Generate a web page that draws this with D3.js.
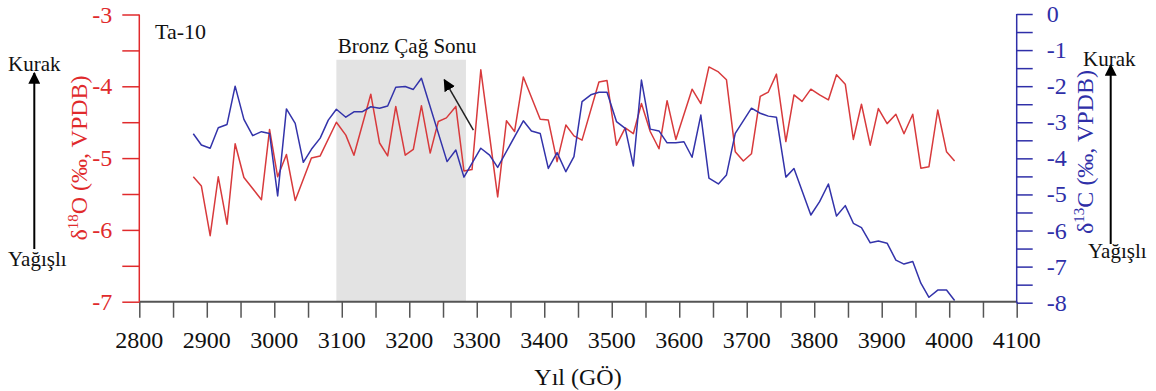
<!DOCTYPE html>
<html>
<head>
<meta charset="utf-8">
<script src="https://cdn.jsdelivr.net/npm/d3@7/dist/d3.min.js"></script>
<style>
  html, body { margin: 0; padding: 0; background: #fff; }
  svg { display: block; }
  text { font-family: "Liberation Serif", "Times New Roman", serif; }
</style>
</head>
<body>
<svg id="chart" width="1156" height="391"></svg>
<script>
// Ta-10 speleothem record: δ18O and δ13C against age (years BP)
const o18Years = [2880,2892,2905,2917,2930,2942,2955,2981,2993,3005,3018,3031,3055,3068,3092,3106,3118,3143,3156,3168,3180,3194,3206,3218,3231,3243,3255,3269,3281,3293,3306,3331,3344,3356,3369,3394,3406,3419,3432,3444,3456,3481,3493,3507,3520,3532,3544,3557,3570,3582,3595,3619,3632,3644,3658,3670,3683,3695,3707,3720,3732,3744,3758,3770,3782,3795,3808,3821,3833,3846,3858,3870,3883,3895,3908,3921,3933,3946,3958,3970,3983,3996,4008];
const o18Values = [-5.26,-5.39,-6.08,-5.26,-5.92,-4.80,-5.27,-5.58,-4.60,-5.26,-4.95,-5.59,-5.00,-4.97,-4.50,-4.68,-4.96,-4.11,-4.79,-4.97,-4.28,-4.96,-4.88,-4.27,-4.93,-4.49,-4.44,-4.28,-5.18,-5.16,-3.77,-5.54,-4.48,-4.63,-3.87,-4.46,-4.47,-5.05,-4.54,-4.69,-4.75,-3.94,-3.92,-4.82,-4.58,-4.66,-4.24,-4.63,-4.87,-4.20,-4.74,-4.04,-4.24,-3.73,-3.80,-3.91,-4.91,-5.04,-4.94,-4.14,-4.08,-3.83,-4.77,-4.12,-4.21,-4.04,-4.12,-4.19,-3.84,-3.97,-4.74,-4.25,-4.82,-4.31,-4.52,-4.39,-4.66,-4.39,-5.14,-5.12,-4.33,-4.91,-5.04];

const c13Years = [2880,2892,2905,2917,2930,2942,2955,2968,2981,2993,3005,3018,3031,3043,3055,3068,3080,3092,3106,3118,3130,3143,3156,3168,3180,3194,3206,3218,3256,3269,3281,3306,3319,3331,3369,3381,3394,3406,3419,3432,3444,3456,3469,3481,3493,3507,3520,3532,3544,3557,3570,3582,3595,3607,3619,3632,3644,3658,3670,3683,3707,3720,3732,3744,3758,3770,3795,3808,3821,3833,3846,3858,3870,3883,3895,3908,3921,3933,3946,3958,3970,3983,3996,4008];
const c13Values = [-3.32,-3.63,-3.72,-3.15,-3.06,-2.00,-2.92,-3.37,-3.26,-3.31,-5.04,-2.63,-3.03,-4.11,-3.75,-3.44,-2.94,-2.64,-2.86,-2.71,-2.71,-2.57,-2.61,-2.55,-2.03,-2.01,-2.09,-1.78,-4.09,-3.77,-4.52,-3.72,-3.91,-4.25,-2.96,-3.24,-3.31,-4.28,-3.84,-4.37,-3.95,-2.43,-2.24,-2.17,-2.17,-2.98,-3.17,-4.21,-1.83,-3.19,-3.24,-3.57,-3.57,-3.54,-3.97,-2.80,-4.55,-4.71,-4.46,-3.31,-2.61,-2.75,-2.83,-2.86,-4.52,-4.28,-5.57,-5.20,-4.71,-5.60,-5.31,-5.80,-5.92,-6.34,-6.29,-6.35,-6.82,-6.93,-6.86,-7.46,-7.85,-7.65,-7.65,-7.94];

// axis ticks
const xTickValues = [2800,2850,2900,2950,3000,3050,3100,3150,3200,3250,3300,3350,3400,3450,3500,3550,3600,3650,3700,3750,3800,3850,3900,3950,4000,4050,4100];
const xTickLabels = [2800,2900,3000,3100,3200,3300,3400,3500,3600,3700,3800,3900,4000,4100];
const o18TickValues = [-7,-6.5,-6,-5.5,-5,-4.5,-4,-3.5,-3];
const o18TickLabels = [-7,-6,-5,-4,-3];
const c13TickValues = [-8,-7.5,-7,-6.5,-6,-5.5,-5,-4.5,-4,-3.5,-3,-2.5,-2,-1.5,-1,-0.5,0];
const c13TickLabels = [-8,-7,-6,-5,-4,-3,-2,-1,0];

// Late Bronze Age interval and its pointer
const bronzeAge = { start: 3092, end: 3284, top: -3.63 };
const bronzeArrow = { fromYear: 3295, fromValue: -4.61, toYear: 3252, toValue: -3.91 };

const RED = "#e02a2c", RED_LINE = "#d83a3c", BLUE = "#2f2fa8", BLUE_LINE = "#3333aa", GREY = "#555";

const svg = d3.select("#chart");
const x = d3.scaleLinear().domain([2800, 4100]).range([139.3, 1016.7]);
const yL = d3.scaleLinear().domain([-7, -3]).range([301.7, 14.5]);
const yR = d3.scaleLinear().domain([-8, 0]).range([302.7, 14]);

const defs = svg.append("defs");
defs.append("marker").attr("id", "head").attr("viewBox", "0 0 10 10")
  .attr("refX", 9).attr("refY", 5).attr("markerWidth", 12).attr("markerHeight", 12)
  .attr("markerUnits", "userSpaceOnUse").attr("orient", "auto")
  .append("path").attr("d", "M0,0 L10,5 L0,10 Z").attr("fill", "#000");

// shaded interval
svg.append("rect")
  .attr("x", x(bronzeAge.start)).attr("width", x(bronzeAge.end) - x(bronzeAge.start))
  .attr("y", yL(bronzeAge.top)).attr("height", yL(-7) - yL(bronzeAge.top))
  .attr("fill", "#e3e3e3");

// series
const o18 = o18Years.map((yr, i) => [yr, o18Values[i]]);
const c13 = c13Years.map((yr, i) => [yr, c13Values[i]]);
svg.append("path").datum(o18)
  .attr("d", d3.line().x(d => x(d[0])).y(d => yL(d[1])))
  .attr("fill", "none").attr("stroke", RED_LINE).attr("stroke-width", 1.5).attr("stroke-linejoin", "round");
svg.append("path").datum(c13)
  .attr("d", d3.line().x(d => x(d[0])).y(d => yR(d[1])))
  .attr("fill", "none").attr("stroke", BLUE_LINE).attr("stroke-width", 1.5).attr("stroke-linejoin", "round");

// bottom axis
const xAxis = svg.append("g").attr("transform", `translate(0,${yL(-7)})`)
  .call(d3.axisBottom(x).tickValues(xTickValues).tickSize(16).tickFormat(() => ""));
xAxis.select(".domain").attr("stroke", GREY).attr("stroke-width", 2).attr("d", `M${x(2800)},0H${x(4100)}`);
xAxis.selectAll(".tick line").attr("stroke", GREY).attr("stroke-width", 1.5);
xAxis.selectAll(".tick text").remove();
svg.append("g").selectAll("text").data(xTickLabels).join("text")
  .attr("x", d => x(d)).attr("y", yL(-7) + 46)
  .attr("text-anchor", "middle").attr("font-size", 24).attr("fill", "#111")
  .text(d => d);

// left axis (δ18O)
const left = svg.append("g").attr("transform", `translate(${x(2800)},0)`)
  .call(d3.axisLeft(yL).tickValues(o18TickValues).tickSize(17).tickFormat(() => ""));
left.select(".domain").attr("stroke", RED).attr("stroke-width", 1.5).attr("d", `M0,${yL(-3)}V${yL(-7)}`);
left.selectAll(".tick line").attr("stroke", RED).attr("stroke-width", 1.5);
svg.append("g").selectAll("text").data(o18TickLabels).join("text")
  .attr("x", x(2800) - 27).attr("y", d => yL(d) + 8)
  .attr("text-anchor", "end").attr("font-size", 24).attr("fill", RED)
  .text(d => d);

// right axis (δ13C)
const right = svg.append("g").attr("transform", `translate(${x(4100)},0)`)
  .call(d3.axisRight(yR).tickValues(c13TickValues).tickSize(16).tickFormat(() => ""));
right.select(".domain").attr("stroke", BLUE).attr("stroke-width", 1.5).attr("d", `M0,${yR(0)}V${yR(-8)}`);
right.selectAll(".tick line").attr("stroke", BLUE).attr("stroke-width", 1.5);
svg.append("g").selectAll("text").data(c13TickLabels).join("text")
  .attr("x", x(4100) + 30).attr("y", d => yR(d) + 8)
  .attr("text-anchor", "start").attr("font-size", 24).attr("fill", BLUE)
  .text(d => d);

// axis titles
svg.append("text").attr("x", 578).attr("y", 385).attr("text-anchor", "middle")
  .attr("font-size", 24).attr("fill", "#111").text("Yıl (GÖ)");

function isoTitle(cx, cy, mass, element, color) {
  const t = svg.append("text").attr("transform", `translate(${cx},${cy}) rotate(-90)`)
    .attr("text-anchor", "middle").attr("font-size", 24).attr("fill", color);
  t.append("tspan").text("δ");
  t.append("tspan").attr("font-size", 15).attr("dy", -9).text(mass);
  t.append("tspan").attr("dy", 9).text(element + " (‰, VPDB)");
}
isoTitle(87, 158, "18", "O", RED);
isoTitle(1093, 152, "13", "C", BLUE);

// chart label and interval label
svg.append("text").attr("x", 155).attr("y", 39).attr("font-size", 22).attr("fill", "#111").text("Ta-10");
svg.append("text").attr("x", x((bronzeAge.start + bronzeAge.end) / 2) + 6).attr("y", 53)
  .attr("text-anchor", "middle").attr("font-size", 21).attr("fill", "#111").text("Bronz Çağ Sonu");
svg.append("line")
  .attr("x1", x(bronzeArrow.fromYear)).attr("y1", yL(bronzeArrow.fromValue))
  .attr("x2", x(bronzeArrow.toYear)).attr("y2", yL(bronzeArrow.toValue))
  .attr("stroke", "#222").attr("stroke-width", 1.5).attr("marker-end", "url(#head)");

// dry / wet indicators beside both axes
function climateArrow(cx, top, bottom, topLabelX, topLabelY, bottomLabelX, bottomLabelY) {
  svg.append("line").attr("x1", cx).attr("x2", cx).attr("y1", bottom).attr("y2", top)
    .attr("stroke", "#000").attr("stroke-width", 2).attr("marker-end", "url(#head)");
  svg.append("text").attr("x", topLabelX).attr("y", topLabelY).attr("font-size", 21).attr("fill", "#111").text("Kurak");
  svg.append("text").attr("x", bottomLabelX).attr("y", bottomLabelY).attr("font-size", 21).attr("fill", "#111").text("Yağışlı");
}
climateArrow(34.3, 73, 249, 8, 71, 8, 266);
climateArrow(1110.7, 65, 244, 1083, 66, 1088, 258);
</script>
</body>
</html>
